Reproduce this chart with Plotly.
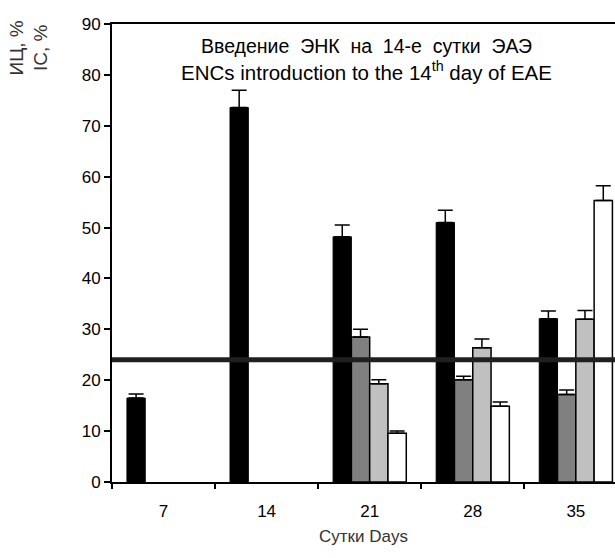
import plotly.graph_objects as go

days = ["7", "14", "21", "28", "35"]

black_vals = [16.5, 73.6, 48.2, 51.0, 32.1]
black_err = [0.8, 3.4, 2.3, 2.4, 1.5]

dark_vals = [None, None, 28.5, 20.1, 17.2]
dark_err = [None, None, 1.5, 0.7, 0.9]

light_vals = [None, None, 19.3, 26.4, 32.0]
light_err = [None, None, 0.8, 1.7, 1.7]

white_vals = [None, None, 9.6, 14.9, 55.3]
white_err = [None, None, 0.4, 0.8, 2.9]

threshold = 24

series = [
    ("black", black_vals, black_err, "#000000", 1.0),
    ("dark", dark_vals, dark_err, "#808080", 1.5),
    ("light", light_vals, light_err, "#c0c0c0", 1.5),
    ("white", white_vals, white_err, "#ffffff", 1.5),
]

fig = go.Figure()
for name, vals, errs, color, lw in series:
    fig.add_trace(go.Bar(
        x=days, y=vals, name=name, showlegend=False,
        marker=dict(color=color, line=dict(color="#000000", width=lw)),
        error_y=dict(type="data", array=errs, arrayminus=[0 if e is not None else None for e in errs],
                     symmetric=False, color="#000000", thickness=1.5, width=7.5),
    ))

font_family = "Liberation Sans, Arial, sans-serif"

fig.update_layout(
    width=615, height=558,
    margin=dict(l=112, r=0, t=24, b=76),
    paper_bgcolor="white", plot_bgcolor="white",
    barmode="group", bargap=0.29, bargroupgap=0,
    font=dict(family=font_family, size=17, color="#000000"),
    xaxis=dict(
        type="category", categoryorder="array", categoryarray=days,
        range=[-0.5, 4.38], tickson="boundaries",
        ticks="outside", ticklen=5, tickwidth=1.5, tickcolor="#000000",
        showline=True, linecolor="#000000", linewidth=2, mirror=True,
        showgrid=False, ticklabelstandoff=13,
        tickfont=dict(size=17, color="#000000"),
        title=dict(text="Сутки Days", font=dict(size=17, color="#333333"), standoff=10),
    ),
    yaxis=dict(
        range=[0, 90], dtick=10, tick0=0,
        ticks="outside", ticklen=6, tickwidth=1.5, tickcolor="#000000",
        showline=True, linecolor="#000000", linewidth=2,
        showgrid=False, zeroline=False,
        tickfont=dict(size=17, color="#000000"),
    ),
    shapes=[dict(type="line", xref="paper", x0=0, x1=1, yref="y", y0=threshold, y1=threshold,
                 line=dict(color="#231f20", width=5), layer="above")],
    annotations=[
        dict(text="Введение  ЭНК  на  14-е  сутки  ЭАЭ", xref="paper", yref="y",
             x=0.505, y=85.7, showarrow=False, xanchor="center", yanchor="middle",
             font=dict(size=19.5, color="#000000")),
        dict(text="ENCs introduction to the 14<sup>th</sup> day of EAE", xref="paper", yref="y",
             x=0.505, y=80.8, showarrow=False, xanchor="center", yanchor="middle",
             font=dict(size=20.5, color="#000000")),
        dict(text="ИЦ, %<br>IC, %", xref="paper", yref="y", textangle=-90,
             x=(29 - 112) / 503, y=85.2, showarrow=False, xanchor="center", yanchor="middle",
             font=dict(size=19, color="#333333")),
    ],
)

fig.write_html("out.html")
